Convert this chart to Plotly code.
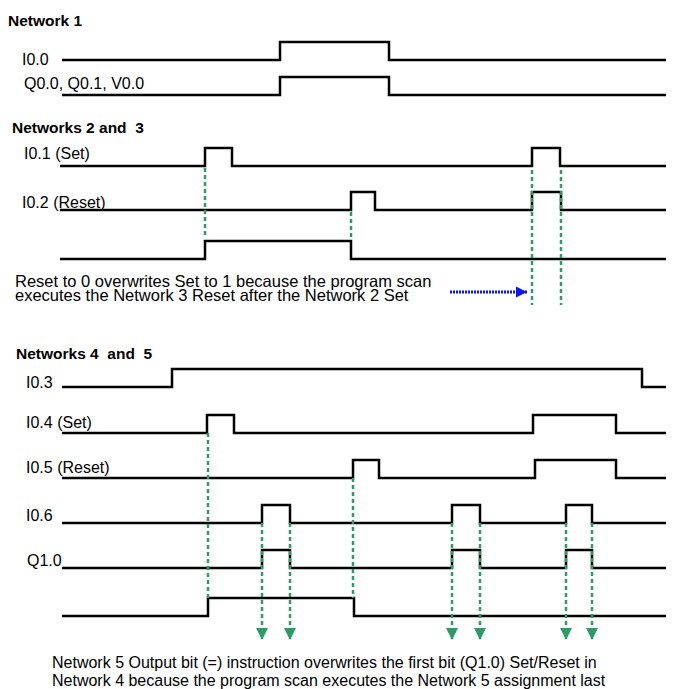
import plotly.graph_objects as go

# ---- data: signal names and switching times (each time toggles the level, start low)
net1_title = "Network 1"
net1_names = ["I0.0", "Q0.0, Q0.1, V0.0"]
net1_edges = [[280, 389], [280, 389]]

net23_title = "Networks 2 and\u00a0 3"
net23_names = ["I0.1 (Set)", "I0.2 (Reset)", ""]
net23_edges = [[205, 232, 532, 560], [351, 375, 532, 561], [205, 351]]
net23_guides = [205, 351, 532, 561]
net23_note = ["Reset to 0 overwrites Set to 1 because the program scan",
              "executes the Network 3 Reset after the Network 2 Set"]
scan_arrow = [450, 527]

net45_title = "Networks 4\u00a0 and\u00a0 5"
net45_names = ["I0.3", "I0.4 (Set)", "I0.5 (Reset)", "I0.6", "Q1.0", ""]
net45_edges = [[172, 642], [207, 234, 533, 616], [353, 379, 535, 616],
               [262, 290, 452, 480, 566, 592], [262, 290, 452, 480, 566, 592],
               [208, 354]]
net45_guides = [208, 353]
net45_arrows = [262, 290, 452, 480, 566, 592]
net45_note = ["Network 5 Output bit (=) instruction overwrites the first bit (Q1.0) Set/Reset in",
              "Network 4 because the program scan executes the Network 5 assignment last"]

T_END = 674

# ---- layout (screen positions, y grows downwards)
W, H = 674, 689
PAD = 8  # default page margin around the plot div
AMP = 18
FONT = "Liberation Sans, Arial, sans-serif"
GREEN = "#2e9a66"
BLUE = "#0a14ff"

fig = go.Figure()


def add_signal(fig, edges, base, t0):
    xs = [t0] + edges + [T_END]
    lv = [0]
    for _ in edges:
        lv.append(1 - lv[-1])
    ys = [base - AMP * v for v in lv] + [base - AMP * lv[-1]]
    fig.add_trace(go.Scatter(x=xs, y=ys, mode="lines", line_shape="hv",
                             line=dict(color="black", width=2.5),
                             hoverinfo="skip", showlegend=False))


def add_label(fig, text, x, y, bold=False, size=16):
    if not text:
        return
    fig.add_annotation(x=max(x, PAD + 2), y=y, xref="x", yref="y",
                       xshift=x - max(x, PAD + 2) - 2,
                       text=f"<b>{text}</b>" if bold else text,
                       showarrow=False, xanchor="left", yanchor="middle",
                       font=dict(family=FONT, size=size, color="black"))


def add_guide(fig, t, y0, y1, arrow=False):
    fig.add_trace(go.Scatter(x=[t, t], y=[y0, y1], mode="lines",
                             line=dict(color=GREEN, width=2.5, dash="4px,3px"),
                             hoverinfo="skip", showlegend=False))
    if arrow:
        fig.add_trace(go.Scatter(x=[t], y=[y1], mode="markers",
                                 marker=dict(symbol="arrow-down", size=12, color=GREEN,
                                             line=dict(width=0)),
                                 hoverinfo="skip", showlegend=False))


# Network 1
add_label(fig, net1_title, 8, 20, bold=True, size=15.5)
net1_base = [60, 95]
net1_lab = [(22, 59), (24, 83)]
for name, edges, b, (lx, ly) in zip(net1_names, net1_edges, net1_base, net1_lab):
    add_signal(fig, edges, b, 62)
    add_label(fig, name, lx, ly)

# Networks 2 and 3
add_label(fig, net23_title, 12, 127, bold=True, size=15.5)
net23_base = [166, 210, 259]
net23_lab = [(24, 153), (22, 202), (0, 0)]
for name, edges, b, (lx, ly) in zip(net23_names, net23_edges, net23_base, net23_lab):
    add_signal(fig, edges, b, 60)
    add_label(fig, name, lx, ly)
g_spans = [(168, 237), (212, 237), (170, 305), (170, 305)]
for t, (y0, y1) in zip(net23_guides, g_spans):
    add_guide(fig, t, y0, y1)
add_label(fig, net23_note[0], 15, 281, size=16.5)
add_label(fig, net23_note[1], 15, 295, size=16.5)
fig.add_trace(go.Scatter(x=scan_arrow, y=[292, 292], mode="lines",
                         line=dict(color=BLUE, width=3, dash="2px,1px"),
                         hoverinfo="skip", showlegend=False))
fig.add_trace(go.Scatter(x=[scan_arrow[1]], y=[292], mode="markers",
                         marker=dict(symbol="arrow-right", size=11, color=BLUE,
                                     line=dict(width=0)),
                         hoverinfo="skip", showlegend=False))

# Networks 4 and 5
add_label(fig, net45_title, 16, 353, bold=True, size=15.5)
net45_base = [387, 433, 478, 523, 568, 616]
net45_lab = [(26, 382), (26, 422), (26, 467), (26, 515), (27, 560), (0, 0)]
for name, edges, b, (lx, ly) in zip(net45_names, net45_edges, net45_base, net45_lab):
    add_signal(fig, edges, b, 62)
    add_label(fig, name, lx, ly)
for t, y0 in zip(net45_guides, [433, 478]):
    add_guide(fig, t, y0, 598)
for t in net45_arrows:
    add_guide(fig, t, 523, 640, arrow=True)
add_label(fig, net45_note[0], 52, 662)
add_label(fig, net45_note[1], 52, 680)

# the plot div sits PAD px into the page, so the axes start at PAD
fig.update_layout(
    width=W - PAD, height=H - PAD,
    margin=dict(l=0, r=0, t=0, b=0),
    plot_bgcolor="white", paper_bgcolor="white",
    xaxis=dict(range=[PAD, W], visible=False, fixedrange=True),
    yaxis=dict(range=[H, PAD], visible=False, fixedrange=True),
    showlegend=False,
)

fig.write_html("out.html")
